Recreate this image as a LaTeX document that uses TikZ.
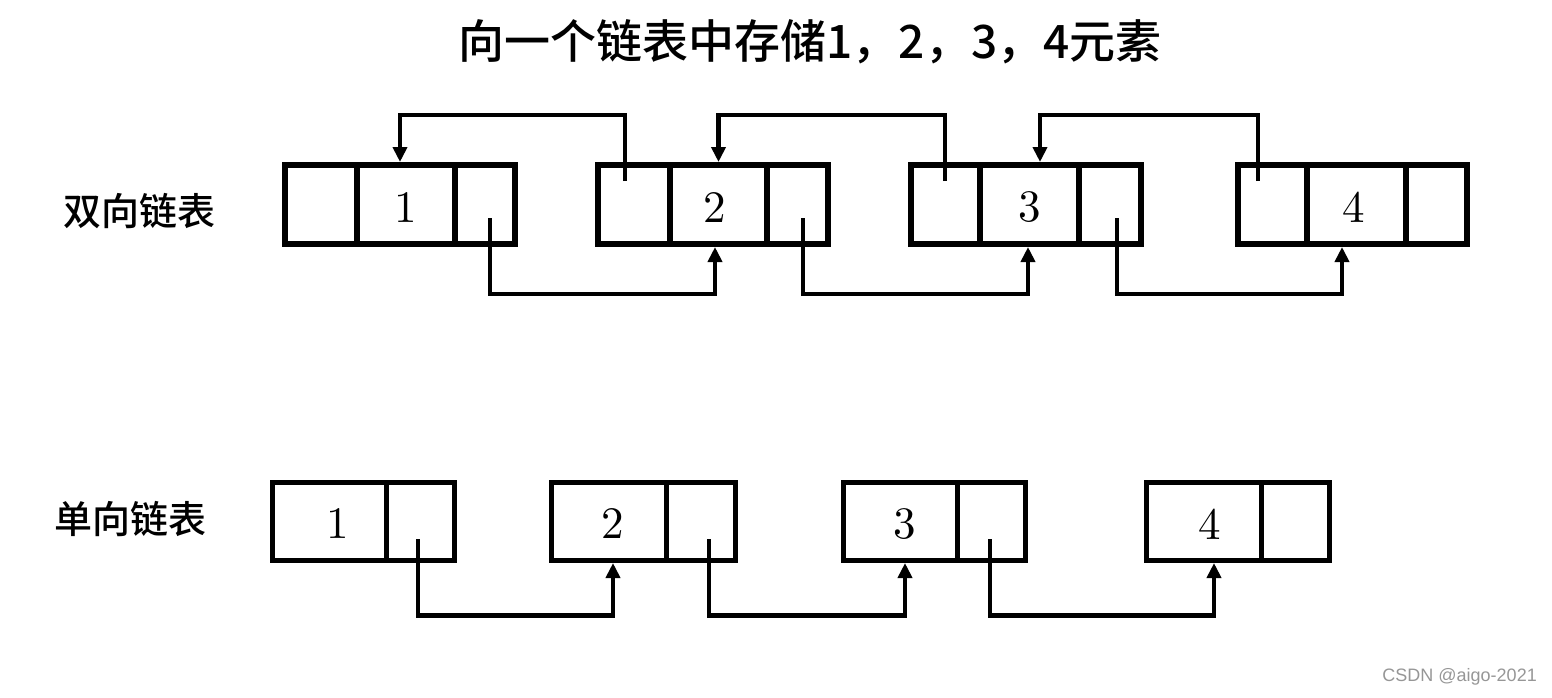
\documentclass[tikz,border=0pt]{standalone}
\usepackage{fontspec}
\newfontfamily\cjk{Noto Sans CJK SC Medium}
\newfontfamily\wmfont{Liberation Sans}
\newfontfamily\numfont{lmroman10-regular.otf}
\usetikzlibrary{arrows.meta,calc}
\definecolor{wmgray}{RGB}{150,150,150}
\tikzset{
  cellT/.style={draw, line width=6pt, minimum height=79pt, inner sep=0pt},
  cellB/.style={draw, line width=5pt, minimum height=78pt, inner sep=0pt},
  num/.style={font=\numfont\fontsize{45}{54}\selectfont, inner sep=0pt},
  link/.style={line width=4.5pt, -{Triangle[width=14pt,length=15pt]}},
  lbl/.style={font=\cjk\fontsize{38}{44}\selectfont, inner sep=0pt},
}
\begin{document}
\begin{tikzpicture}[x=1pt,y=-1pt]
\useasboundingbox (0,0) rectangle (1552,697);
% title
\node[font=\cjk\fontsize{46}{52}\selectfont, inner sep=0pt] (title) at (810,42) {向一个链表中存储1，2，3，4元素};
% row labels
\node[lbl] (lab2) at (139,211) {双向链表};
\node[lbl] (lab1) at (130,519) {单向链表};
% lanes
\coordinate (laneA) at (0,115);
\coordinate (laneB) at (0,294);
\coordinate (laneC) at (0,615.5);
% doubly linked list
\node[cellT,minimum width=72pt] (b1a) at (321,204.5) {};
\node[cellT,minimum width=98pt] (b1b) at (406,204.5) {};
\node[cellT,minimum width=60pt] (b1c) at (485,204.5) {};
\node[cellT,minimum width=72pt] (b2a) at (634,204.5) {};
\node[cellT,minimum width=97pt] (b2b) at (718.5,204.5) {};
\node[cellT,minimum width=61pt] (b2c) at (797.5,204.5) {};
\node[cellT,minimum width=69pt] (b3a) at (945.5,204.5) {};
\node[cellT,minimum width=99pt] (b3b) at (1029.5,204.5) {};
\node[cellT,minimum width=62pt] (b3c) at (1110,204.5) {};
\node[cellT,minimum width=69pt] (b4a) at (1272.5,204.5) {};
\node[cellT,minimum width=99pt] (b4b) at (1356.5,204.5) {};
\node[cellT,minimum width=61pt] (b4c) at (1436.5,204.5) {};
\node[num] (t1) at ([shift={(0,3)}]b1b.center) {1};
\node[num] (t2) at ([shift={(-4,3)}]b2b.center) {2};
\node[num] (t3) at ([shift={(0.5,3)}]b3b.center) {3};
\node[num] (t4) at ([shift={(-3,3)}]b4b.center) {4};
% prev pointers
\coordinate (p2) at ([shift={(-9,19)}]b2a.north);
\coordinate (p3) at ([shift={(-0.5,19)}]b3a.north);
\coordinate (p4) at ([shift={(-14.5,19)}]b4a.north);
\draw[link] (p2) -- (p2 |- laneA) -| ([xshift=-6pt]b1b.north);
\draw[link] (p3) -- (p3 |- laneA) -| ([xshift=0pt]b2b.north);
\draw[link] (p4) -- (p4 |- laneA) -| ([xshift=10.5pt]b3b.north);
% next pointers
\coordinate (q1) at ([shift={(5,-29)}]b1c.south);
\coordinate (q2) at ([shift={(5.5,-29)}]b2c.south);
\coordinate (q3) at ([shift={(7,-29)}]b3c.south);
\draw[link] (q1) -- (q1 |- laneB) -| ([xshift=-3.5pt]b2b.south);
\draw[link] (q2) -- (q2 |- laneB) -| ([xshift=-1.5pt]b3b.south);
\draw[link] (q3) -- (q3 |- laneB) -| ([xshift=-14.5pt]b4b.south);
% singly linked list
\node[cellB,minimum width=114pt] (c1a) at (329,521.5) {};
\node[cellB,minimum width=68pt] (c1b) at (420,521.5) {};
\node[cellB,minimum width=115pt] (c2a) at (608.5,521.5) {};
\node[cellB,minimum width=69pt] (c2b) at (700.5,521.5) {};
\node[cellB,minimum width=114pt] (c3a) at (900,521.5) {};
\node[cellB,minimum width=68pt] (c3b) at (991,521.5) {};
\node[cellB,minimum width=115pt] (c4a) at (1203.5,521.5) {};
\node[cellB,minimum width=68pt] (c4b) at (1295,521.5) {};
\node[num] (s1) at ([shift={(9,2.5)}]c1a.center) {1};
\node[num] (s2) at ([shift={(4,2.5)}]c2a.center) {2};
\node[num] (s3) at ([shift={(5,2.5)}]c3a.center) {3};
\node[num] (s4) at ([shift={(6,2.5)}]c4a.center) {4};
\coordinate (r1) at ([shift={(-2,-24)}]c1b.south);
\coordinate (r2) at ([shift={(8.5,-24)}]c2b.south);
\coordinate (r3) at ([shift={(-1,-24)}]c3b.south);
\draw[link] (r1) -- (r1 |- laneC) -| ([xshift=4.5pt]c2a.south);
\draw[link] (r2) -- (r2 |- laneC) -| ([xshift=5pt]c3a.south);
\draw[link] (r3) -- (r3 |- laneC) -| ([xshift=10.5pt]c4a.south);
% watermark
\node[font=\wmfont\fontsize{18}{20}\selectfont, text=wmgray, anchor=east, inner sep=0pt] (wm) at (1537,677) {CSDN @aigo-2021};
\end{tikzpicture}
\end{document}
